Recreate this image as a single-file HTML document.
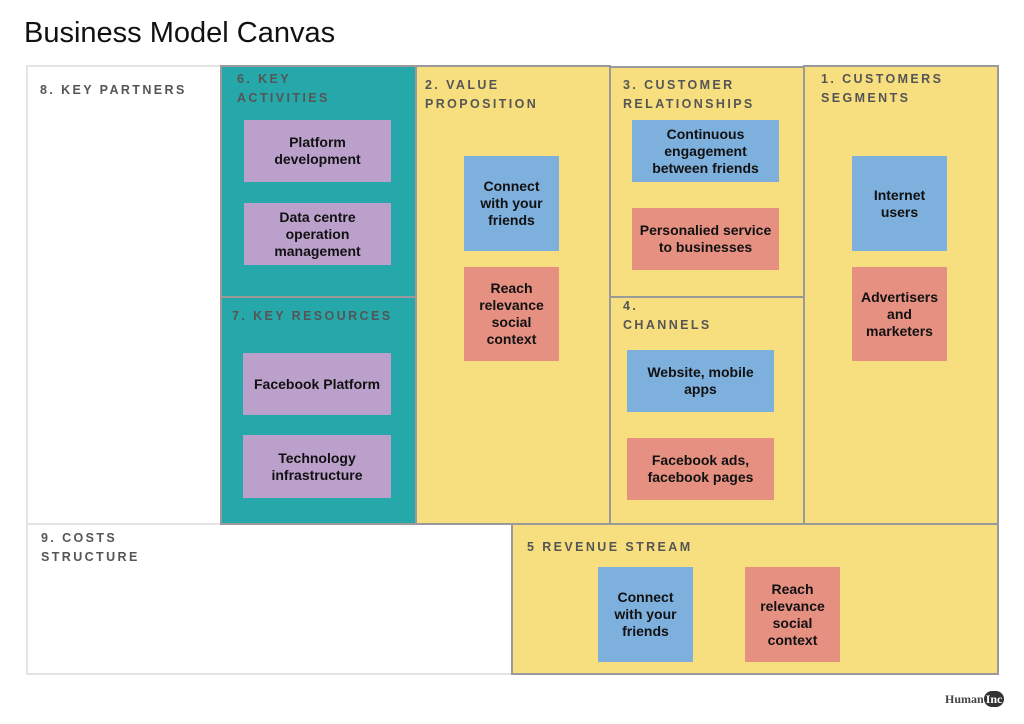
<!DOCTYPE html>
<html><head><meta charset="utf-8"><style>
*{margin:0;padding:0;box-sizing:border-box}
body{width:1024px;height:724px;background:#fff;position:relative;font-family:"Liberation Sans",Arial,sans-serif;overflow:hidden}
.t{position:absolute;left:24px;top:17px;font-size:29px;color:#111}
.c{position:absolute;border:2px solid #9a9a9a}
.y{background:#f7df7f}.g{background:#26a8ab}.w{background:#fff;border-color:#e4e4e4}
.h{position:absolute;font-size:12.5px;font-weight:bold;letter-spacing:2.4px;color:#555;line-height:19px}
.s{position:absolute;display:flex;align-items:center;justify-content:center;text-align:center;font-size:14px;font-weight:bold;color:#111;line-height:17px}
.p{background:#bba0cc}.b{background:#7eb0de}.r{background:#e69082}
.logo{position:absolute;left:945px;top:692px;font-family:"Liberation Serif",serif;font-size:12px;font-weight:bold;color:#444}
.logo span{background:#333;color:#fff;border-radius:9px;padding:1px 2px}
</style></head><body>
<div class="t">Business Model Canvas</div>
<div class="c w" style="left:26px;top:65px;width:196px;height:460px"></div>
<div class="c w" style="left:26px;top:523px;width:487px;height:152px"></div>
<div class="c g" style="left:220px;top:65px;width:197px;height:233px"></div>
<div class="c g" style="left:220px;top:296px;width:197px;height:229px"></div>
<div class="c y" style="left:415px;top:65px;width:196px;height:460px"></div>
<div class="c y" style="left:609px;top:66px;width:196px;height:232px"></div>
<div class="c y" style="left:609px;top:296px;width:196px;height:229px"></div>
<div class="c y" style="left:803px;top:65px;width:196px;height:460px"></div>
<div class="c y" style="left:511px;top:523px;width:488px;height:152px"></div>

<div class="h" style="left:40px;top:81px">8. KEY PARTNERS</div>
<div class="h" style="left:237px;top:70px">6. KEY<br>ACTIVITIES</div>
<div class="h" style="left:232px;top:307px">7. KEY RESOURCES</div>
<div class="h" style="left:425px;top:76px">2. VALUE<br>PROPOSITION</div>
<div class="h" style="left:623px;top:76px">3. CUSTOMER<br>RELATIONSHIPS</div>
<div class="h" style="left:623px;top:297px">4.<br>CHANNELS</div>
<div class="h" style="left:821px;top:70px">1. CUSTOMERS<br>SEGMENTS</div>
<div class="h" style="left:41px;top:529px">9. COSTS<br>STRUCTURE</div>
<div class="h" style="left:527px;top:538px">5 REVENUE STREAM</div>

<div class="s p" style="left:244px;top:120px;width:147px;height:62px">Platform<br>development</div>
<div class="s p" style="left:244px;top:203px;width:147px;height:62px">Data centre<br>operation<br>management</div>
<div class="s p" style="left:243px;top:353px;width:148px;height:62px">Facebook Platform</div>
<div class="s p" style="left:243px;top:435px;width:148px;height:63px">Technology<br>infrastructure</div>
<div class="s b" style="left:464px;top:156px;width:95px;height:95px">Connect<br>with your<br>friends</div>
<div class="s r" style="left:464px;top:267px;width:95px;height:94px">Reach<br>relevance<br>social<br>context</div>
<div class="s b" style="left:632px;top:120px;width:147px;height:62px">Continuous<br>engagement<br>between friends</div>
<div class="s r" style="left:632px;top:208px;width:147px;height:62px">Personalied service<br>to businesses</div>
<div class="s b" style="left:627px;top:350px;width:147px;height:62px">Website, mobile<br>apps</div>
<div class="s r" style="left:627px;top:438px;width:147px;height:62px">Facebook ads,<br>facebook pages</div>
<div class="s b" style="left:852px;top:156px;width:95px;height:95px">Internet<br>users</div>
<div class="s r" style="left:852px;top:267px;width:95px;height:94px">Advertisers<br>and<br>marketers</div>
<div class="s b" style="left:598px;top:567px;width:95px;height:95px">Connect<br>with your<br>friends</div>
<div class="s r" style="left:745px;top:567px;width:95px;height:95px">Reach<br>relevance<br>social<br>context</div>

<div class="logo">Human<span>Inc</span></div>
</body></html>
